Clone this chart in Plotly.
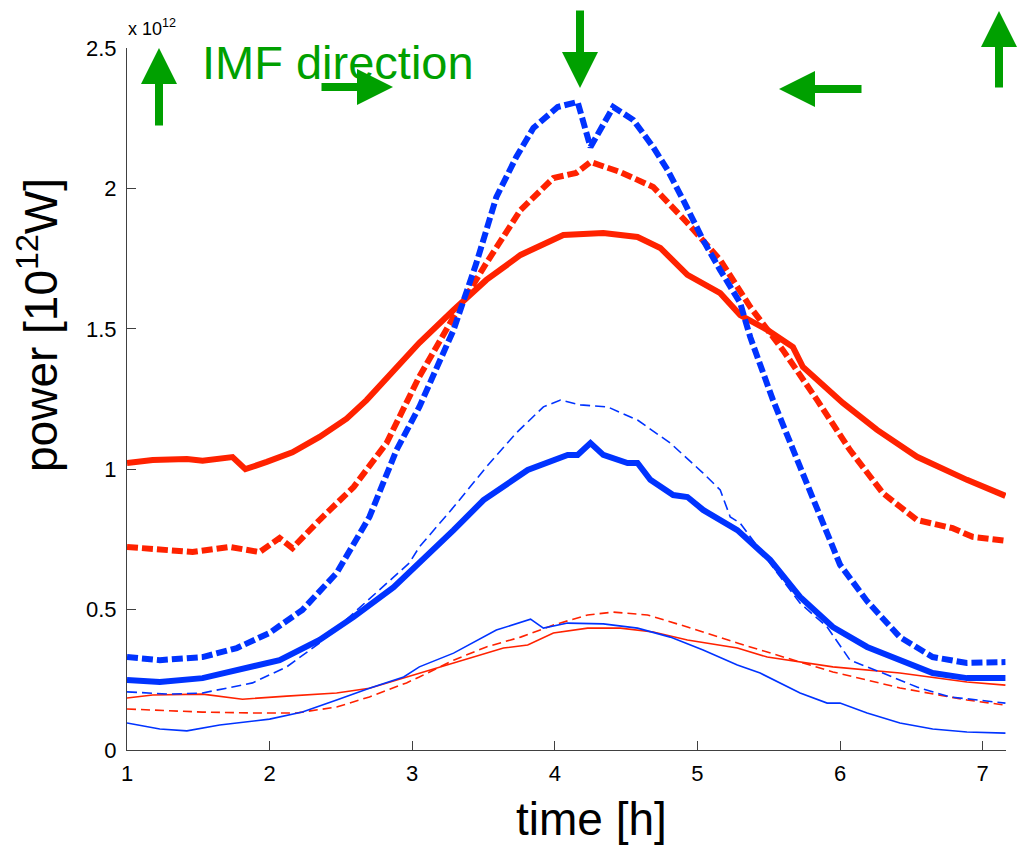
import plotly.graph_objects as go

# ---- data (power in units of 10^12 W, time in hours) ----
red_thick_solid_x = [1.0,1.18,1.42,1.53,1.74,1.83,1.98,2.16,2.35,2.54,2.68,3.05,3.29,3.52,3.76,4.06,4.34,4.58,4.74,4.93,5.16,5.30,5.49,5.67,5.74,6.02,6.26,6.54,6.89,7.16]
red_thick_solid_y = [1.022,1.033,1.036,1.03,1.043,1.0,1.026,1.06,1.115,1.18,1.246,1.45,1.567,1.674,1.763,1.834,1.841,1.827,1.788,1.692,1.627,1.549,1.496,1.435,1.364,1.236,1.14,1.044,0.962,0.905]

red_thick_dash_x = [1.0,1.23,1.46,1.72,1.93,2.07,2.16,2.35,2.59,2.82,2.96,3.05,3.29,3.52,3.76,3.99,4.15,4.25,4.46,4.69,4.93,5.16,5.37,5.60,5.84,6.07,6.30,6.54,6.79,6.93,7.16]
red_thick_dash_y = [0.723,0.712,0.705,0.723,0.705,0.755,0.719,0.819,0.937,1.093,1.236,1.33,1.542,1.734,1.923,2.037,2.055,2.094,2.058,2.005,1.877,1.745,1.578,1.424,1.246,1.068,0.915,0.819,0.79,0.759,0.745]

blue_thick_dash_x = [1.0,1.23,1.53,1.77,2.0,2.23,2.47,2.70,2.89,3.05,3.29,3.45,3.59,3.73,3.85,4.02,4.16,4.25,4.41,4.55,4.69,4.79,4.90,5.04,5.16,5.30,5.37,5.53,5.72,5.91,6.0,6.19,6.42,6.65,6.89,7.16]
blue_thick_dash_y = [0.331,0.32,0.331,0.363,0.417,0.499,0.63,0.83,1.068,1.222,1.496,1.734,1.969,2.112,2.215,2.29,2.308,2.147,2.29,2.244,2.147,2.066,1.959,1.816,1.709,1.592,1.471,1.246,1.008,0.773,0.66,0.53,0.402,0.331,0.31,0.313]

blue_thick_solid_x = [1.0,1.23,1.53,1.84,2.07,2.35,2.59,2.87,3.05,3.29,3.50,3.81,4.09,4.16,4.25,4.34,4.51,4.58,4.67,4.83,4.93,5.04,5.28,5.51,5.72,5.95,6.19,6.42,6.65,6.89,7.16]
blue_thick_solid_y = [0.249,0.242,0.256,0.292,0.32,0.392,0.474,0.58,0.666,0.783,0.89,0.997,1.051,1.051,1.093,1.051,1.022,1.022,0.962,0.908,0.901,0.855,0.783,0.677,0.545,0.438,0.367,0.32,0.274,0.256,0.256]

blue_thin_dash_x = [1.0,1.30,1.53,1.88,2.12,2.35,2.59,2.87,2.98,3.05,3.29,3.52,3.73,3.92,4.04,4.18,4.37,4.58,4.81,5.04,5.16,5.23,5.30,5.56,5.72,5.91,6.07,6.30,6.54,6.77,7.16]
blue_thin_dash_y = [0.207,0.199,0.203,0.239,0.296,0.381,0.488,0.616,0.666,0.723,0.865,1.008,1.129,1.222,1.246,1.229,1.222,1.175,1.093,0.986,0.926,0.83,0.808,0.63,0.523,0.438,0.32,0.274,0.224,0.189,0.167]

red_thin_solid_x = [1.0,1.18,1.53,1.81,2.12,2.47,2.70,2.96,3.05,3.29,3.64,3.81,3.99,4.23,4.46,4.69,4.93,5.28,5.49,5.95,6.42,6.89,7.16]
red_thin_solid_y = [0.185,0.196,0.199,0.181,0.192,0.203,0.22,0.26,0.274,0.31,0.363,0.374,0.417,0.434,0.434,0.42,0.392,0.363,0.331,0.296,0.274,0.242,0.231]

red_thin_dash_x = [1.0,1.53,1.88,2.19,2.47,2.70,2.96,3.05,3.29,3.52,3.76,3.99,4.23,4.41,4.65,4.93,5.28,5.49,5.95,6.42,6.89,7.16]
red_thin_dash_y = [0.146,0.135,0.132,0.132,0.153,0.189,0.239,0.26,0.32,0.367,0.402,0.445,0.481,0.491,0.481,0.438,0.381,0.349,0.278,0.221,0.178,0.16]

blue_thin_solid_x = [1.0,1.23,1.42,1.65,2.0,2.23,2.47,2.70,2.94,3.05,3.29,3.59,3.83,3.92,4.09,4.34,4.58,4.81,5.04,5.28,5.44,5.72,5.91,6.0,6.19,6.42,6.65,6.89,7.16]
blue_thin_solid_y = [0.096,0.075,0.068,0.089,0.11,0.135,0.178,0.22,0.26,0.296,0.345,0.427,0.466,0.434,0.452,0.449,0.434,0.402,0.356,0.303,0.274,0.203,0.167,0.167,0.132,0.096,0.075,0.064,0.06]

y_tick_vals = [0, 0.5, 1, 1.5, 2, 2.5]
y_tick_text = ["0", "0.5", "1", "1.5", "2", "2.5"]
x_tick_vals = [1, 2, 3, 4, 5, 6, 7]

RED = "#ff2200"
BLUE = "#0033ff"
GREEN = "#00a000"

series = [
    (red_thin_solid_x, red_thin_solid_y, RED, 1.6, "solid"),
    (red_thin_dash_x, red_thin_dash_y, RED, 1.6, "9px,5px"),
    (blue_thin_solid_x, blue_thin_solid_y, BLUE, 1.6, "solid"),
    (blue_thin_dash_x, blue_thin_dash_y, BLUE, 1.6, "10px,5px"),
    (blue_thick_solid_x, blue_thick_solid_y, BLUE, 6, "solid"),
    (red_thick_solid_x, red_thick_solid_y, RED, 6, "solid"),
    (red_thick_dash_x, red_thick_dash_y, RED, 6, "11px,4px"),
    (blue_thick_dash_x, blue_thick_dash_y, BLUE, 6, "11px,4px"),
]

fig = go.Figure()
for xs, ys, c, w, d in series:
    fig.add_trace(go.Scatter(x=xs, y=ys, mode="lines",
                             line=dict(color=c, width=w, dash=d),
                             showlegend=False, hoverinfo="skip"))

W, H = 1019, 846
ML, MR, MT, MB = 127, 13, 48, 96
PW, PH = W - ML - MR, H - MT - MB

def px(xp):
    return (xp - ML) / PW

def py(yp):
    return (H - MB - yp) / PH

FONT = "Liberation Sans, Arial, Helvetica, sans-serif"
AXC = "#404040"

fig.update_layout(
    width=W, height=H, autosize=False,
    margin=dict(l=ML, r=MR, t=MT, b=MB, pad=0),
    paper_bgcolor="white", plot_bgcolor="white",
    font=dict(family=FONT, color="black", size=22),
    xaxis=dict(range=[1, 7.164], tickvals=x_tick_vals, ticks="inside", ticklen=9,
               tickcolor=AXC, showline=True, linecolor=AXC, linewidth=1,
               showgrid=False, zeroline=False, ticklabelstandoff=4,
               tickfont=dict(size=22, color="black")),
    yaxis=dict(range=[0, 2.5], tickvals=y_tick_vals, ticktext=y_tick_text,
               ticks="inside", ticklen=9, tickcolor=AXC, showline=True,
               linecolor=AXC, linewidth=1, showgrid=False, zeroline=False,
               ticklabelstandoff=5, tickfont=dict(size=22, color="black")),
)

annotations = [
    dict(text="time [h]", x=px(591), y=py(819), xref="paper", yref="paper",
         showarrow=False, font=dict(size=46, color="black"), xanchor="center", yanchor="middle"),
    dict(text="power [10<sup>12</sup>W]", x=px(38), y=py(325), xref="paper", yref="paper",
         showarrow=False, textangle=-90, font=dict(size=46, color="black"),
         xanchor="center", yanchor="middle"),
    dict(text="x 10<sup>12</sup>", x=px(126), y=py(27), xref="paper", yref="paper",
         showarrow=False, font=dict(size=18, color="black"), xanchor="left", yanchor="middle"),
    dict(text="IMF direction", x=px(200), y=py(62), xref="paper", yref="paper",
         showarrow=False, font=dict(size=47, color=GREEN), xanchor="left", yanchor="middle"),
]

arrows = [  # (head_x, head_y, tail dx, tail dy) in page pixels
    (159, 48, 0, 79),
    (393, 87, -73, 0),
    (580, 88, 0, -79),
    (779, 89, 84, 0),
    (999, 11, 0, 78),
]
for hx, hy, dx, dy in arrows:
    annotations.append(dict(x=px(hx), y=py(hy), xref="paper", yref="paper",
                            ax=dx, ay=dy, axref="pixel", ayref="pixel",
                            showarrow=True, arrowhead=2, arrowwidth=8, arrowsize=0.9,
                            arrowcolor=GREEN, text="", standoff=0))
fig.update_layout(annotations=annotations)

fig.write_html("out.html")
